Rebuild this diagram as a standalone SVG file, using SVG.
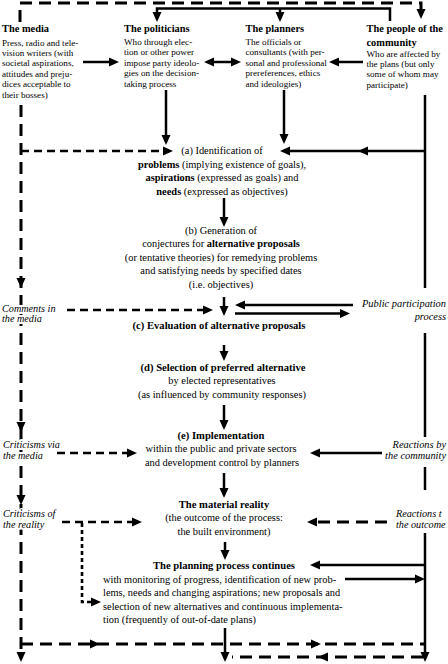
<svg xmlns="http://www.w3.org/2000/svg" xmlns:xlink="http://www.w3.org/1999/xlink" width="448" height="664" viewBox="0 0 448 664">
<defs>
<style>
text{font-family:"Liberation Serif","Times New Roman",serif;fill:#000}
.h{font-weight:bold;font-size:10.4px}
.b{font-size:9.1px}
.c{font-size:10.4px;text-anchor:middle}
.cb{font-size:10.6px;font-weight:bold;text-anchor:middle}
.i{font-style:italic;font-size:10.2px;paint-order:stroke;stroke:#fff;stroke-width:4px;stroke-linejoin:round}
.ir{font-style:italic;font-size:10.4px;text-anchor:end;paint-order:stroke;stroke:#fff;stroke-width:4px;stroke-linejoin:round}
.s{stroke:#000;stroke-width:2.5;fill:none}
.d{stroke:#000;stroke-width:3;fill:none;stroke-dasharray:12 7}
.ds{stroke:#000;stroke-width:2.6;fill:none;stroke-dasharray:8 5}
.dt{stroke:#000;stroke-width:2.6;fill:none;stroke-dasharray:4 3}
</style>
<path id="ad" d="M0,0 L-4.5,-10 L4.5,-10 Z" fill="#000"/>
</defs>
<rect width="448" height="664" fill="#fff"/>

<g id="connectors">
<!-- top dashed: media to community -->
<path class="d" d="M20,22 V3 H421 V9"/>
<use xlink:href="#ad" transform="translate(421,19)"/>
<!-- top solid: community to politicians and planners -->
<path class="s" d="M390,21 V8.5 H157 V13"/>
<path class="s" d="M280,8.5 V13"/>
<use xlink:href="#ad" transform="translate(157,22)"/>
<use xlink:href="#ad" transform="translate(280,22)"/>
<!-- media -> politicians -->
<path class="s" d="M83,62 H110"/>
<use xlink:href="#ad" transform="translate(119,62) rotate(-90)"/>
<!-- politicians <-> planners -->
<path class="s" d="M212,62 H232"/>
<use xlink:href="#ad" transform="translate(204,62) rotate(90)"/>
<use xlink:href="#ad" transform="translate(241,62) rotate(-90)"/>
<!-- community -> planners -->
<path class="s" d="M363,62 H337"/>
<use xlink:href="#ad" transform="translate(329,62) rotate(90)"/>
<!-- politicians / planners -> (a) -->
<path class="s" d="M166,90 V136"/>
<use xlink:href="#ad" transform="translate(166,145)"/>
<path class="s" d="M284,90 V135"/>
<use xlink:href="#ad" transform="translate(284,144)"/>
<!-- community right vertical -->
<path class="s" d="M425,95 V288 M425,333 V437 M425,467 V490 M425,533 V653"/>
<use xlink:href="#ad" transform="translate(425,662)"/>
<!-- community -> (a) -->
<path class="s" d="M425,151 H289"/>
<use xlink:href="#ad" transform="translate(358,151) rotate(90)"/>
<use xlink:href="#ad" transform="translate(280,151) rotate(90)"/>
<!-- media -> (a) -->
<path class="ds" d="M21,151 H164"/>
<use xlink:href="#ad" transform="translate(173,151) rotate(-90)"/>
<!-- media left vertical -->
<path class="d" d="M21,105 V653"/>
<use xlink:href="#ad" transform="translate(21,288)"/>
<use xlink:href="#ad" transform="translate(21,432)"/>
<use xlink:href="#ad" transform="translate(21,505)"/>
<use xlink:href="#ad" transform="translate(21,662)"/>
<!-- center flow -->
<path class="s" d="M224,198 V217"/>
<use xlink:href="#ad" transform="translate(224,227)"/>
<path class="s" d="M224,297 V306"/>
<use xlink:href="#ad" transform="translate(224,316)"/>
<path class="ds" d="M67,310 H204"/>
<use xlink:href="#ad" transform="translate(213,310) rotate(-90)"/>
<path class="s" d="M353,305 H244"/>
<use xlink:href="#ad" transform="translate(235,305) rotate(90)"/>
<path class="s" d="M235,313.5 H341"/>
<use xlink:href="#ad" transform="translate(350,313.5) rotate(-90)"/>
<path class="s" d="M224,345 V351"/>
<use xlink:href="#ad" transform="translate(224,361)"/>
<path class="s" d="M224,405 V420"/>
<use xlink:href="#ad" transform="translate(224,430)"/>
<path class="ds" d="M57,453 H128"/>
<use xlink:href="#ad" transform="translate(137,453) rotate(-90)"/>
<path class="s" d="M382,453 H319"/>
<use xlink:href="#ad" transform="translate(310,453) rotate(90)"/>
<path class="s" d="M224,473 V489"/>
<use xlink:href="#ad" transform="translate(224,498)"/>
<path class="ds" d="M62,522 H133"/>
<use xlink:href="#ad" transform="translate(142,522) rotate(-90)"/>
<path class="dt" d="M82,523 V602 H92"/>
<use xlink:href="#ad" transform="translate(101,602) rotate(-90)"/>
<path class="d" d="M387,522 H316"/>
<use xlink:href="#ad" transform="translate(307,522) rotate(90)"/>
<path class="s" d="M225,542 V551"/>
<use xlink:href="#ad" transform="translate(225,560)"/>
<path class="s" d="M425,565 H319"/>
<use xlink:href="#ad" transform="translate(310,565) rotate(90)"/>
<path class="s" d="M345,579 H416"/>
<use xlink:href="#ad" transform="translate(425,579) rotate(-90)"/>
<path class="s" d="M225,628 V653"/>
<use xlink:href="#ad" transform="translate(225,662)"/>
<!-- bottom dashed loops -->
<path class="d" d="M21,644 H425"/>
<use xlink:href="#ad" transform="translate(100,644) rotate(-90)"/>
<use xlink:href="#ad" transform="translate(321,644) rotate(-90)"/>
<path class="d" d="M423,657 H232"/>
<use xlink:href="#ad" transform="translate(318,657) rotate(90)"/>
</g>

<g id="media">
<text x="2" y="32" class="h">The media</text>
<text class="b"><tspan x="2" y="45.5">Press, radio and tele-</tspan><tspan x="2" y="55.9">vision writers (with</tspan><tspan x="2" y="66.3">societal aspirations,</tspan><tspan x="2" y="76.7">attitudes and preju-</tspan><tspan x="2" y="87.1">dices acceptable to</tspan><tspan x="2" y="97.5">their bosses)</tspan></text>
</g>

<g id="politicians">
<text x="124" y="32" class="h">The politicians</text>
<text class="b"><tspan x="124" y="45">Who through elec-</tspan><tspan x="124" y="55.4">tion or other power</tspan><tspan x="124" y="65.8">impose party ideolo-</tspan><tspan x="124" y="76.2">gies on the decision-</tspan><tspan x="124" y="86.6">taking process</tspan></text>
</g>

<g id="planners">
<text x="245.5" y="32" class="h">The planners</text>
<text class="b"><tspan x="245.5" y="45">The officials or</tspan><tspan x="245.5" y="55.4">consultants (with per-</tspan><tspan x="245.5" y="65.8">sonal and professional</tspan><tspan x="245.5" y="76.2">prereferences, ethics</tspan><tspan x="245.5" y="86.6">and ideologies)</tspan></text>
</g>

<g id="community">
<text x="366.5" y="32" class="h">The people of the</text>
<text x="366.5" y="46" class="h">community</text>
<text class="b"><tspan x="366.5" y="56.5">Who are affected by</tspan><tspan x="366.5" y="66.9">the plans (but only</tspan><tspan x="366.5" y="77.3">some of whom may</tspan><tspan x="366.5" y="87.7">participate)</tspan></text>
</g>

<g id="identification">
<text class="c"><tspan x="222" y="154">(a) Identification of</tspan><tspan x="222" y="167.5"><tspan font-weight="bold">problems</tspan> (implying existence of goals),</tspan><tspan x="222" y="181"><tspan font-weight="bold">aspirations</tspan> (expressed as goals) and</tspan><tspan x="222" y="194.5"><tspan font-weight="bold">needs</tspan> (expressed as objectives)</tspan></text>
</g>

<g id="generation">
<text class="c"><tspan x="221" y="233.5">(b) Generation of</tspan><tspan x="221" y="247">conjectures for <tspan font-weight="bold">alternative proposals</tspan></tspan><tspan x="221" y="260.5">(or tentative theories) for remedying problems</tspan><tspan x="221" y="274">and satisfying needs by specified dates</tspan><tspan x="221" y="287.5">(i.e. objectives)</tspan></text>
</g>

<g id="evaluation">
<text x="219" y="328.5" class="cb">(c) Evaluation of alternative proposals</text>
</g>

<g id="selection">
<text x="223" y="371" class="cb">(d) Selection of preferred alternative</text>
<text class="c"><tspan x="222" y="384">by elected representatives</tspan><tspan x="222" y="397.5">(as influenced by community responses)</tspan></text>
</g>

<g id="implementation">
<text x="221" y="438.5" class="cb">(e) Implementation</text>
<text class="c"><tspan x="221" y="452">within the public and private sectors</tspan><tspan x="222" y="465.5">and development control by planners</tspan></text>
</g>

<g id="reality">
<text x="224" y="507.5" class="cb">The material reality</text>
<text class="c"><tspan x="224" y="521">(the outcome of the process:</tspan><tspan x="224" y="534.5">the built environment)</tspan></text>
</g>

<g id="continues">
<text x="224" y="568.5" class="cb">The planning process continues</text>
<text font-size="10.4"><tspan x="103" y="582.5">with monitoring of progress, identification of new prob-</tspan><tspan x="103" y="596">lems, needs and changing aspirations; new proposals and</tspan><tspan x="103" y="609.5">selection of new alternatives and continuous implementa-</tspan><tspan x="103" y="623">tion (frequently of out-of-date plans)</tspan></text>
</g>

<g id="labels">
<text class="i"><tspan x="2" y="311.5">Comments in</tspan><tspan x="2" y="322">the media</tspan></text>
<text class="i"><tspan x="3" y="448">Criticisms via</tspan><tspan x="3" y="459">the media</tspan></text>
<text class="i"><tspan x="3" y="516.5">Criticisms of</tspan><tspan x="3" y="528">the reality</tspan></text>
<text class="ir"><tspan x="446" y="306.5">Public participation</tspan><tspan x="446" y="319.5">process</tspan></text>
<text class="ir"><tspan x="446" y="448">Reactions by</tspan><tspan x="446" y="459">the community</tspan></text>
<text class="i" font-size="10.4"><tspan x="396" y="516.5">Reactions t</tspan><tspan x="396" y="528">the outcome</tspan></text>
</g>
</svg>
